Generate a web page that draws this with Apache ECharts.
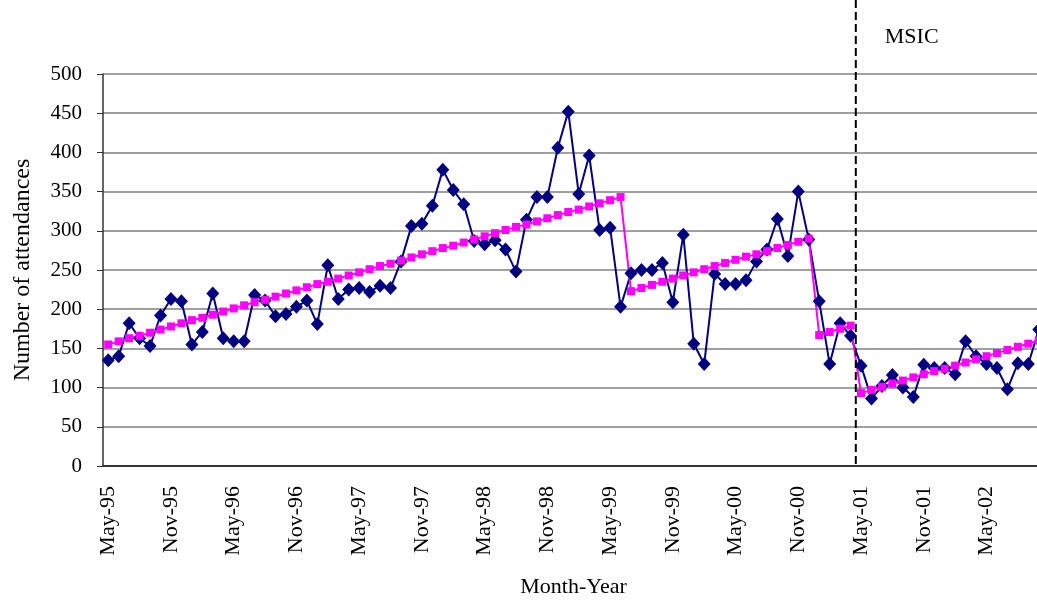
<!DOCTYPE html>
<html>
<head>
<meta charset="utf-8">
<script src="https://cdn.jsdelivr.net/npm/echarts@6/dist/echarts.min.js"></script>
<style>
  html, body { margin: 0; padding: 0; background: #fff; }
  #chart { width: 1037px; height: 601px; }
</style>
</head>
<body>
<div id="chart"></div>
<script>
// monthly categories, May-95 .. Oct-02
const months = [
  'May-95','Jun-95','Jul-95','Aug-95','Sep-95','Oct-95','Nov-95','Dec-95',
  'Jan-96','Feb-96','Mar-96','Apr-96','May-96','Jun-96','Jul-96','Aug-96','Sep-96','Oct-96','Nov-96','Dec-96',
  'Jan-97','Feb-97','Mar-97','Apr-97','May-97','Jun-97','Jul-97','Aug-97','Sep-97','Oct-97','Nov-97','Dec-97',
  'Jan-98','Feb-98','Mar-98','Apr-98','May-98','Jun-98','Jul-98','Aug-98','Sep-98','Oct-98','Nov-98','Dec-98',
  'Jan-99','Feb-99','Mar-99','Apr-99','May-99','Jun-99','Jul-99','Aug-99','Sep-99','Oct-99','Nov-99','Dec-99',
  'Jan-00','Feb-00','Mar-00','Apr-00','May-00','Jun-00','Jul-00','Aug-00','Sep-00','Oct-00','Nov-00','Dec-00',
  'Jan-01','Feb-01','Mar-01','Apr-01','May-01','Jun-01','Jul-01','Aug-01','Sep-01','Oct-01','Nov-01','Dec-01',
  'Jan-02','Feb-02','Mar-02','Apr-02','May-02','Jun-02','Jul-02','Aug-02','Sep-02','Oct-02'
]

// observed attendances
const attendances = [
  135, 140, 182, 163, 153, 192, 213, 210, 155, 171,
  220, 163, 159, 159, 218, 211, 191, 194, 203, 211,
  181, 256, 213, 225, 227, 222, 230, 227, 261, 306,
  309, 332, 378, 352, 334, 287, 283, 288, 276, 248,
  314, 343, 343, 406, 452, 347, 396, 301, 304, 203,
  246, 250, 250, 259, 209, 295, 156, 130, 245, 232,
  232, 237, 261, 276, 315, 268, 350, 289, 210, 130,
  182, 166, 128, 86, 102, 116, 100, 88, 129, 125,
  125, 117, 159, 140, 130, 125, 98, 131, 130, 174
]

// fitted trend (segmented)
const trend = [
  155, 159, 163, 166, 170, 174, 178, 182, 186, 189,
  193, 197, 201, 205, 209, 212, 216, 220, 224, 228,
  232, 235, 239, 243, 247, 251, 255, 258, 262, 266,
  270, 274, 278, 281, 285, 289, 293, 297, 301, 305,
  308, 312, 316, 320, 324, 327, 331, 335, 339, 343,
  223, 227, 231, 235, 239, 243, 247, 251, 255, 259,
  263, 267, 270, 274, 278, 282, 286, 290,
  167, 171, 175, 179,
  93, 97, 101, 105, 109, 113, 117, 121, 124, 128,
  132, 136, 140, 144, 148, 152, 156, 160
]

const interventionStart = 'May-01'
const interventionLabel = 'MSIC'

const font = 'Liberation Serif'
const chart = echarts.init(document.getElementById('chart'), null, { renderer: 'canvas' })

chart.setOption({
  animation: false,
  textStyle: { fontFamily: font, color: '#000' },
  grid: { left: 103, right: -7, top: 74, bottom: 135, outerBoundsMode: 'none' },
  xAxis: {
    type: 'category',
    data: months,
    boundaryGap: true,
    name: 'Month-Year',
    nameLocation: 'middle',
    nameGap: 110,
    nameTextStyle: { fontFamily: font, fontSize: 22, color: '#000' },
    axisLine: { lineStyle: { color: '#333', width: 2 } },
    axisTick: { interval: 5, length: 6, lineStyle: { color: '#333', width: 1 } },
    axisLabel: { interval: 5, rotate: 90, margin: 20, fontFamily: font, fontSize: 22, color: '#000' },
    splitLine: { show: false }
  },
  yAxis: {
    type: 'value',
    min: 0, max: 500, interval: 50,
    name: 'Number of attendances',
    nameLocation: 'middle',
    nameRotate: 90,
    nameGap: 68,
    nameTextStyle: { fontFamily: font, fontSize: 24, color: '#000' },
    axisLine: { show: true, lineStyle: { color: '#333', width: 1.5 } },
    axisTick: { show: true, length: 6, lineStyle: { color: '#333' } },
    axisLabel: { margin: 21, fontFamily: font, fontSize: 21, color: '#000' },
    splitLine: { lineStyle: { color: '#808080', width: 1.5 } }
  },
  series: [
    {
      name: 'Attendances',
      type: 'line',
      data: attendances,
      symbol: 'diamond',
      symbolSize: [13, 14],
      showAllSymbol: true,
      itemStyle: { color: '#000080' },
      lineStyle: { color: '#000080', width: 2 }
    },
    {
      name: 'Trend',
      type: 'line',
      data: trend,
      symbol: 'rect',
      symbolSize: 8,
      showAllSymbol: true,
      itemStyle: { color: '#ff00ff' },
      lineStyle: { color: '#ff00ff', width: 2 }
    }
  ]
})

// dashed line at the boundary before the intervention month, up to the top edge
const idx = months.indexOf(interventionStart)
const xa = chart.convertToPixel({ xAxisIndex: 0 }, months[idx - 1])
const xb = chart.convertToPixel({ xAxisIndex: 0 }, months[idx])
const xLine = (xa + xb) / 2
const yBase = chart.convertToPixel({ yAxisIndex: 0 }, 0)

chart.setOption({
  graphic: [
    {
      type: 'line',
      shape: { x1: xLine, y1: 0, x2: xLine, y2: yBase },
      style: { stroke: '#000', lineWidth: 2, lineDash: [8, 4] },
      z: 10
    },
    {
      type: 'text',
      x: xLine + 29,
      y: 26,
      style: { text: interventionLabel, fontFamily: font, fontSize: 22, fill: '#000' },
      z: 10
    }
  ]
})

window.addEventListener('resize', () => chart.resize())
</script>
</body>
</html>
